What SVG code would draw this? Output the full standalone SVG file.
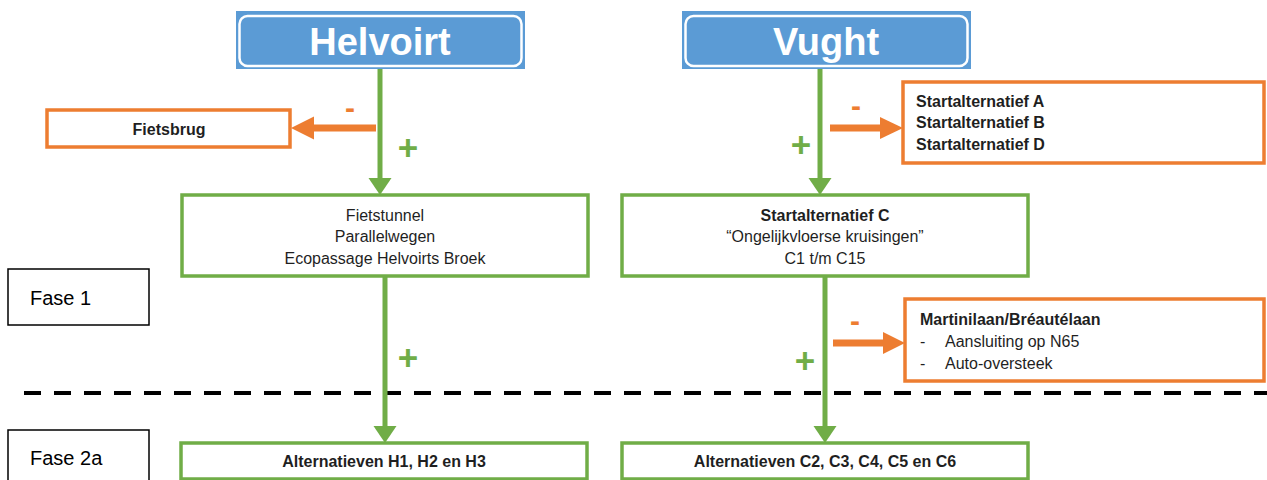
<svg xmlns="http://www.w3.org/2000/svg" width="1267" height="480" viewBox="0 0 1267 480">
  <style>
    text { font-family: "Liberation Sans", Arial, sans-serif; fill: #1f1f1f; }
    .title { font-size: 38px; font-weight: bold; fill: #ffffff; text-anchor: middle; }
    .sign-outer { fill: #5B9BD5; }
    .sign-inner { fill: none; stroke: #ffffff; stroke-width: 2.5; }
    .green-box { fill: #ffffff; stroke: #70AD47; stroke-width: 3.5; }
    .orange-box { fill: #ffffff; stroke: #ED7D31; stroke-width: 3.5; }
    .phase-box { fill: #ffffff; stroke: #000000; stroke-width: 1.5; }
    .body { font-size: 16px; }
    .bold { font-weight: bold; }
    .mid { text-anchor: middle; }
    .phase { font-size: 20px; fill: #000000; }
    .green-shaft { stroke: #70AD47; stroke-width: 5; fill: none; }
    .orange-shaft { stroke: #ED7D31; stroke-width: 7; fill: none; }
    .green-head { fill: #70AD47; }
    .orange-head { fill: #ED7D31; }
    .plus { font-size: 35px; font-weight: bold; fill: #70AD47; text-anchor: middle; }
    .minus { font-size: 30px; font-weight: bold; fill: #ED7D31; text-anchor: middle; }
    .divider { stroke: #000000; stroke-width: 4; stroke-dasharray: 17 13; }
  </style>

  <!-- phase separator -->
  <line class="divider" x1="24" y1="393" x2="1267" y2="393"/>

  <!-- phase labels -->
  <g id="fase-1">
    <rect class="phase-box" x="8" y="269" width="141" height="56"/>
    <text class="phase" x="30" y="305">Fase 1</text>
  </g>
  <g id="fase-2a">
    <rect class="phase-box" x="8" y="430" width="141" height="60"/>
    <text class="phase" x="30" y="465">Fase 2a</text>
  </g>

  <!-- connectors -->
  <g id="connectors">
    <!-- Helvoirt column -->
    <line class="green-shaft" x1="380" y1="69" x2="380" y2="180"/>
    <polygon class="green-head" points="368.5,178 391.5,178 380,195"/>
    <line class="orange-shaft" x1="376" y1="128" x2="312" y2="128"/>
    <polygon class="orange-head" points="314,116.5 314,139.5 291,128"/>
    <line class="green-shaft" x1="385" y1="277" x2="385" y2="428"/>
    <polygon class="green-head" points="373.5,426 396.5,426 385,443"/>

    <!-- Vught column -->
    <line class="green-shaft" x1="820" y1="69" x2="820" y2="180"/>
    <polygon class="green-head" points="808.5,178 831.5,178 820,195"/>
    <line class="orange-shaft" x1="830" y1="128" x2="882" y2="128"/>
    <polygon class="orange-head" points="880,117 880,139 903,128"/>
    <line class="green-shaft" x1="825" y1="277" x2="825" y2="428"/>
    <polygon class="green-head" points="813.5,426 836.5,426 825,443"/>
    <line class="orange-shaft" x1="833" y1="343" x2="885" y2="343"/>
    <polygon class="orange-head" points="883,332 883,354 905,343"/>

    <!-- signs -->
    <text class="minus" x="350" y="118">-</text>
    <text class="plus" x="408" y="160">+</text>
    <text class="plus" x="408" y="370">+</text>
    <text class="minus" x="856" y="116">-</text>
    <text class="plus" x="801" y="157">+</text>
    <text class="minus" x="855" y="331">-</text>
    <text class="plus" x="805" y="373">+</text>
  </g>

  <!-- Helvoirt sign -->
  <g id="helvoirt">
    <rect class="sign-outer" x="236" y="11" width="289" height="58"/>
    <rect class="sign-inner" x="239.5" y="16" width="282" height="50" rx="8"/>
    <text class="title" x="380" y="55">Helvoirt</text>
  </g>

  <!-- Vught sign -->
  <g id="vught">
    <rect class="sign-outer" x="682" y="11" width="289" height="58"/>
    <rect class="sign-inner" x="685.5" y="16" width="282" height="50" rx="8"/>
    <text class="title" x="826" y="55">Vught</text>
  </g>

  <g id="fietsbrug">
    <rect class="orange-box" x="47" y="110" width="243" height="37"/>
    <text class="body bold mid" x="169" y="135">Fietsbrug</text>
  </g>

  <g id="startalternatief-abd">
    <rect class="orange-box" x="903" y="82" width="361" height="81"/>
    <text class="body bold" x="916" y="107">Startalternatief A</text>
    <text class="body bold" x="916" y="128">Startalternatief B</text>
    <text class="body bold" x="916" y="150">Startalternatief D</text>
  </g>

  <g id="helvoirt-fase1">
    <rect class="green-box" x="182" y="195" width="406" height="81"/>
    <text class="body mid" x="385" y="221">Fietstunnel</text>
    <text class="body mid" x="385" y="242">Parallelwegen</text>
    <text class="body mid" x="385" y="264">Ecopassage Helvoirts Broek</text>
  </g>

  <g id="startalternatief-c">
    <rect class="green-box" x="622" y="195" width="406" height="81"/>
    <text class="body bold mid" x="825" y="221">Startalternatief C</text>
    <text class="body mid" x="825" y="242">“Ongelijkvloerse kruisingen”</text>
    <text class="body mid" x="825" y="264">C1 t/m C15</text>
  </g>

  <g id="martinilaan">
    <rect class="orange-box" x="905" y="299" width="359" height="82"/>
    <text class="body bold" x="920" y="325">Martinilaan/Bréautélaan</text>
    <text class="body" x="920" y="347">-</text>
    <text class="body" x="945" y="347">Aansluiting op N65</text>
    <text class="body" x="920" y="369">-</text>
    <text class="body" x="945" y="369">Auto-oversteek</text>
  </g>

  <g id="alternatieven-h">
    <rect class="green-box" x="181" y="443" width="406" height="36"/>
    <text class="body bold mid" x="384" y="467">Alternatieven H1, H2 en H3</text>
  </g>

  <g id="alternatieven-c">
    <rect class="green-box" x="622" y="443" width="406" height="36"/>
    <text class="body bold mid" x="825" y="467">Alternatieven C2, C3, C4, C5 en C6</text>
  </g>
</svg>
